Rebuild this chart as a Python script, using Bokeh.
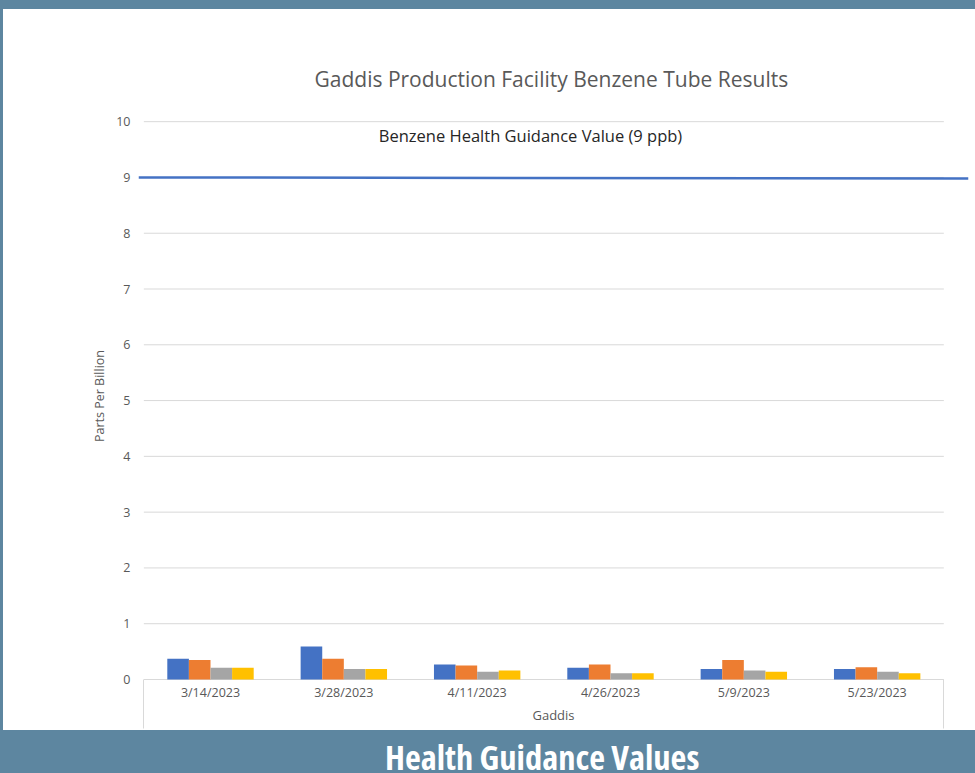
from bokeh.plotting import figure
from bokeh.models import Range1d, FixedTicker, ColumnDataSource, Div
from bokeh.layouts import column
from bokeh.transform import dodge
from bokeh.core.properties import value
from bokeh.embed import file_html
from bokeh.resources import INLINE

# ---- data ----
dates = ["3/14/2023", "3/28/2023", "4/11/2023", "4/26/2023", "5/9/2023", "5/23/2023"]
series1 = [0.37, 0.59, 0.27, 0.21, 0.19, 0.19]
series2 = [0.35, 0.37, 0.25, 0.27, 0.35, 0.22]
series3 = [0.21, 0.19, 0.14, 0.11, 0.16, 0.14]
series4 = [0.21, 0.19, 0.16, 0.11, 0.14, 0.11]
guidance_value = [9.0, 8.98]
y_ticks = [0, 1, 2, 3, 4, 5, 6, 7, 8, 9, 10]

title = "Gaddis Production Facility Benzene Tube Results"
guidance_label = "Benzene Health Guidance Value (9 ppb)"
x_label = "Gaddis"
y_label = "Parts Per Billion"
footer = "Health Guidance Values"

# ---- styles ----
FONT = "Open Sans"
GRAY_TXT = "#595959"
GRID = "#d9d9d9"
colors = ["#4472C4", "#ED7D31", "#A5A5A5", "#FFC000"]
BAND = "#5d86a0"

n = len(dates)
xs = list(range(n))
src = ColumnDataSource(dict(x=xs, s1=series1, s2=series2, s3=series3, s4=series4))

p = figure(width=972, height=721, margin=(9, 0, 0, 3),
           output_backend="svg", toolbar_location=None,
           x_range=Range1d(-0.54, 5.685), y_range=Range1d(-0.036, 10.2),
           min_border_left=135, min_border_right=7, min_border_top=101, min_border_bottom=49,
           background_fill_color="white", border_fill_color="white", outline_line_color=None,
           styles={"background-color": "white"})

p.title.text = title
p.title.align = "left"
p.title.offset = 176
p.title.text_font = FONT
p.title.text_font_size = "21px"
p.title.text_font_style = "normal"
p.title.text_color = GRAY_TXT
p.title.standoff = 35

p.xgrid.visible = False
p.ygrid.visible = False

# gridlines within the category span
p.segment(x0=[-0.5] * len(y_ticks), x1=[n - 0.5] * len(y_ticks), y0=y_ticks, y1=y_ticks,
          line_color=GRID, line_width=1)

bw = 0.162
offs = [-1.5 * bw, -0.5 * bw, 0.5 * bw, 1.5 * bw]
for key, off, c in zip(["s1", "s2", "s3", "s4"], offs, colors):
    p.vbar(x=dodge("x", off), top=key, bottom=0, width=bw, source=src,
           fill_color=c, line_color=None)

# guidance line spanning the plot
p.line(x=[-0.54, 5.685], y=guidance_value, line_color="#4472C4", line_width=2.5)

p.text(x=[2.40], y=[9.75], text=[guidance_label], text_font=value(FONT),
       text_font_size="16.5px", text_color="#262626", text_align="center",
       text_baseline="alphabetic")

# x axis
xa = p.xaxis[0]
xa.ticker = FixedTicker(ticks=xs, minor_ticks=[-0.5, n - 0.5])
xa.major_label_overrides = {i: d for i, d in enumerate(dates)}
xa.axis_line_color = None
xa.major_tick_line_color = None
xa.major_tick_out = 0
xa.major_tick_in = 0
xa.minor_tick_line_color = GRID
xa.minor_tick_out = 47
xa.minor_tick_in = 2
xa.major_label_standoff = -45
xa.major_label_text_font = FONT
xa.major_label_text_font_size = "12.5px"
xa.major_label_text_color = GRAY_TXT
xa.axis_label = x_label
xa.axis_label_text_font = FONT
xa.axis_label_text_font_size = "13px"
xa.axis_label_text_font_style = "normal"
xa.axis_label_text_color = GRAY_TXT
xa.axis_label_standoff = 2

ya = p.yaxis[0]
ya.ticker = FixedTicker(ticks=y_ticks)
ya.axis_line_color = None
ya.major_tick_line_color = None
ya.minor_tick_line_color = None
ya.major_tick_out = 0
ya.major_tick_in = 0
ya.major_label_standoff = 8
ya.major_label_text_font = FONT
ya.major_label_text_font_size = "12.5px"
ya.major_label_text_color = GRAY_TXT
ya.axis_label = y_label
ya.axis_label_text_font = FONT
ya.axis_label_text_font_size = "12.5px"
ya.axis_label_text_font_style = "normal"
ya.axis_label_text_color = GRAY_TXT
ya.axis_label_standoff = 5

band = Div(text=footer, width=975, height=43, margin=0,
           styles={"background-color": BAND, "color": "white", "font-family": "Open Sans",
                   "font-weight": "bold", "font-size": "34.5px", "font-stretch": "75%",
                   "line-height": "43px", "padding-left": "385px", "padding-top": "5px",
                   "box-sizing": "border-box", "white-space": "nowrap", "overflow": "hidden"})

layout = column(p, band, spacing=0, styles={"background-color": BAND})

open("out.html", "w").write(file_html(layout, INLINE))
